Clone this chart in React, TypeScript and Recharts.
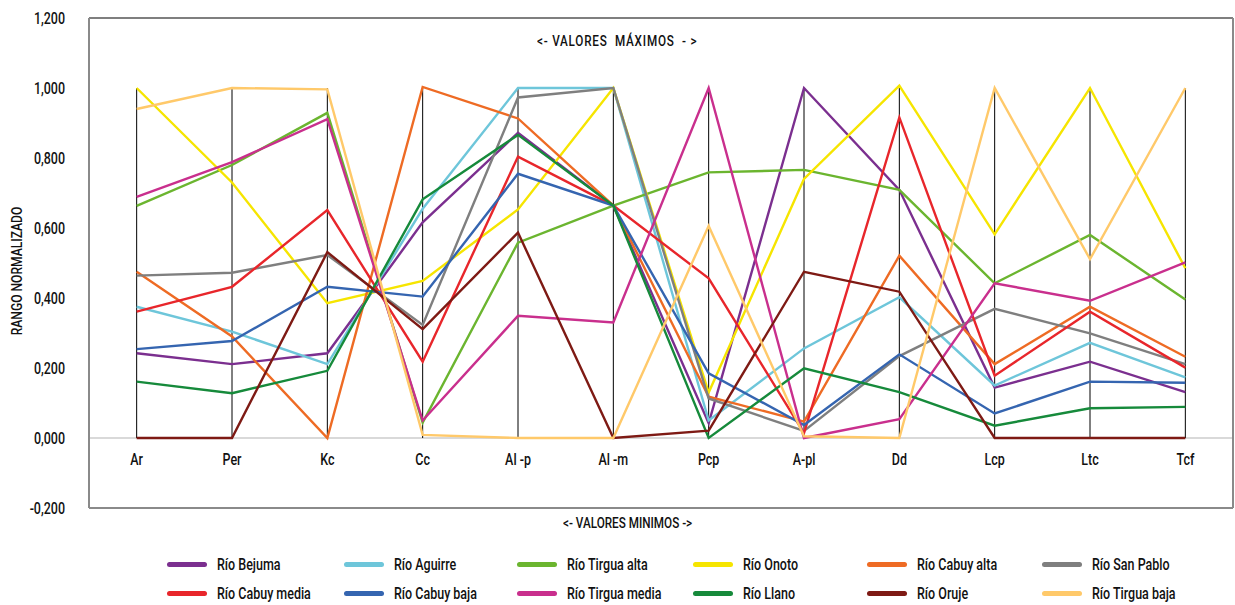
import React from 'react';
import { LineChart, Line, XAxis, YAxis, ReferenceLine } from 'recharts';

const categories = ['Ar', 'Per', 'Kc', 'Cc', 'Al -p', 'Al -m', 'Pcp', 'A-pl', 'Dd', 'Lcp', 'Ltc', 'Tcf'];

const rioBejuma = [0.242, 0.211, 0.242, 0.616, 0.872, 0.664, 0.042, 1.0, 0.709, 0.144, 0.218, 0.131];
const rioAguirre = [0.375, 0.304, 0.211, 0.655, 1.0, 1.0, 0.05, 0.256, 0.402, 0.15, 0.272, 0.173];
const rioTirguaAlta = [0.663, 0.78, 0.929, 0.044, 0.558, 0.664, 0.759, 0.766, 0.709, 0.442, 0.58, 0.396];
const rioOnoto = [1.0, 0.73, 0.385, 0.449, 0.653, 1.0, 0.13, 0.74, 1.007, 0.582, 1.0, 0.485];
const rioCabuyAlta = [0.475, 0.29, 0.0, 1.003, 0.913, 0.664, 0.118, 0.047, 0.521, 0.211, 0.375, 0.232];
const rioSanPablo = [0.464, 0.472, 0.523, 0.323, 0.973, 1.0, 0.113, 0.02, 0.234, 0.369, 0.299, 0.211];
const rioCabuyMedia = [0.361, 0.432, 0.651, 0.218, 0.804, 0.664, 0.456, 0.014, 0.916, 0.178, 0.361, 0.201];
const rioCabuyBaja = [0.254, 0.277, 0.432, 0.404, 0.755, 0.664, 0.185, 0.037, 0.239, 0.07, 0.161, 0.158];
const rioTirguaMedia = [0.689, 0.788, 0.911, 0.05, 0.349, 0.33, 1.0, 0.0, 0.054, 0.442, 0.392, 0.502];
const rioLlano = [0.161, 0.128, 0.192, 0.682, 0.866, 0.664, 0.0, 0.199, 0.131, 0.035, 0.085, 0.089];
const rioOruje = [0.0, 0.0, 0.531, 0.311, 0.587, 0.0, 0.021, 0.475, 0.418, 0.0, 0.0, 0.0];
const rioTirguaBaja = [0.94, 1.0, 0.996, 0.009, 0.0, 0.0, 0.606, 0.005, 0.0, 1.0, 0.511, 1.0];

const yTicks = [-0.2, 0, 0.2, 0.4, 0.6, 0.8, 1.0, 1.2];

const series = [
  { key: 'bejuma', name: 'Río Bejuma', color: '#7B2F8F', values: rioBejuma },
  { key: 'aguirre', name: 'Río Aguirre', color: '#6EC6DA', values: rioAguirre },
  { key: 'tirguaAlta', name: 'Río Tirgua alta', color: '#6BB52F', values: rioTirguaAlta },
  { key: 'onoto', name: 'Río Onoto', color: '#F6E500', values: rioOnoto },
  { key: 'cabuyAlta', name: 'Río Cabuy alta', color: '#EE6B24', values: rioCabuyAlta },
  { key: 'sanPablo', name: 'Río San Pablo', color: '#7F7F7F', values: rioSanPablo },
  { key: 'cabuyMedia', name: 'Río Cabuy media', color: '#E8262B', values: rioCabuyMedia },
  { key: 'cabuyBaja', name: 'Río Cabuy baja', color: '#3565B0', values: rioCabuyBaja },
  { key: 'tirguaMedia', name: 'Río Tirgua media', color: '#C92F8D', values: rioTirguaMedia },
  { key: 'llano', name: 'Río Llano', color: '#168A3B', values: rioLlano },
  { key: 'oruje', name: 'Río Oruje', color: '#7E1A14', values: rioOruje },
  { key: 'tirguaBaja', name: 'Río Tirgua baja', color: '#FFC96A', values: rioTirguaBaja },
];

const data = categories.map((cat, i) => {
  const row: Record<string, any> = { cat };
  series.forEach((s) => {
    row[s.key] = s.values[i];
  });
  return row;
});

const FONT = "Roboto, 'Noto Sans', sans-serif";
const TEXT = '#111';
const SX = 0.78;

const fmt = (v: number) => v.toFixed(3).replace('.', ',');

const XTick = (props: any) => {
  const { x, y, payload } = props;
  return (
    <g transform={`translate(${x},${y}) scale(${SX},1)`}>
      <text x={0} y={-51} textAnchor="middle" fontFamily={FONT} fontSize={16} fontWeight={500} fill={TEXT}>
        {payload.value}
      </text>
    </g>
  );
};

const YTick = (props: any) => {
  const { x, y, payload } = props;
  return (
    <g transform={`translate(${x},${y}) scale(${SX},1)`}>
      <text x={0} y={0} dy={5.5} textAnchor="end" fontFamily={FONT} fontSize={16} fontWeight={500} fill={TEXT}>
        {fmt(payload.value)}
      </text>
    </g>
  );
};

const legendCols = [167, 344, 517, 693, 867, 1042];
const legendRows = [564, 593];

const cond = (extra: React.CSSProperties = {}): React.CSSProperties => ({
  transform: `scaleX(${SX})`,
  transformOrigin: 'left center',
  display: 'inline-block',
  ...extra,
});

export default function App() {
  return (
    <div style={{ position: 'absolute', left: 0, top: 0, width: 1235, height: 605, background: '#fff', fontFamily: FONT }}>
      <LineChart
        width={1235}
        height={605}
        data={data}
        margin={{ top: 18, right: 1, bottom: 67, left: 0 }}
      >
        <XAxis
          dataKey="cat"
          scale="band"
          height={30}
          axisLine={{ stroke: '#8a8a8a', strokeWidth: 2 }}
          tickLine={false}
          tick={<XTick />}
          interval={0}
        />
        <YAxis
          width={89}
          domain={[-0.2, 1.2]}
          ticks={yTicks}
          axisLine={{ stroke: '#8a8a8a', strokeWidth: 2 }}
          tickLine={false}
          tickMargin={18}
          tick={<YTick />}
          interval={0}
        />
        <YAxis
          yAxisId="right"
          orientation="right"
          width={1}
          domain={[-0.2, 1.2]}
          tick={false}
          tickLine={false}
          axisLine={{ stroke: '#8a8a8a', strokeWidth: 2 }}
        />
        <ReferenceLine y={1.2} stroke="#000" strokeWidth={1.2} />
        <ReferenceLine y={0} stroke="#d9d9d9" strokeWidth={2} />
        {categories.map((c) => (
          <ReferenceLine
            key={c}
            segment={[{ x: c, y: 0 }, { x: c, y: 1 }]}
            stroke="#000"
            strokeWidth={1}
          />
        ))}
        {series.map((s) => (
          <Line
            key={s.key}
            dataKey={s.key}
            name={s.name}
            stroke={s.color}
            strokeWidth={2.4}
            dot={false}
            activeDot={false}
            isAnimationActive={false}
          />
        ))}
      </LineChart>

      <div style={{ position: 'absolute', left: 537, top: 32, fontSize: 15, fontWeight: 500, color: TEXT, whiteSpace: 'pre' }}>
        <span style={cond({ letterSpacing: 1 })}>{'<- VALORES  MÁXIMOS  - >'}</span>
      </div>
      <div style={{ position: 'absolute', left: 563, top: 514, fontSize: 15, fontWeight: 500, color: TEXT, whiteSpace: 'pre' }}>
        <span style={cond()}>{'<- VALORES MINIMOS ->'}</span>
      </div>
      <div
        style={{
          position: 'absolute',
          left: 17,
          top: 271,
          transform: `translate(-50%, -50%) rotate(-90deg) scaleX(${SX})`,
          fontSize: 15.5,
          fontWeight: 500,
          color: TEXT,
          whiteSpace: 'nowrap',
        }}
      >
        RANGO NORMALIZADO
      </div>

      {series.map((s, i) => {
        const col = i % 6;
        const row = Math.floor(i / 6);
        return (
          <div
            key={s.key}
            style={{
              position: 'absolute',
              left: legendCols[col],
              top: legendRows[row] - 10,
              height: 20,
              display: 'flex',
              alignItems: 'center',
              fontSize: 16,
              fontWeight: 500,
              color: TEXT,
              whiteSpace: 'nowrap',
            }}
          >
            <span style={{ display: 'inline-block', width: 40, height: 5, borderRadius: 3, background: s.color, marginRight: 10 }} />
            <span style={cond()}>{s.name}</span>
          </div>
        );
      })}
    </div>
  );
}
